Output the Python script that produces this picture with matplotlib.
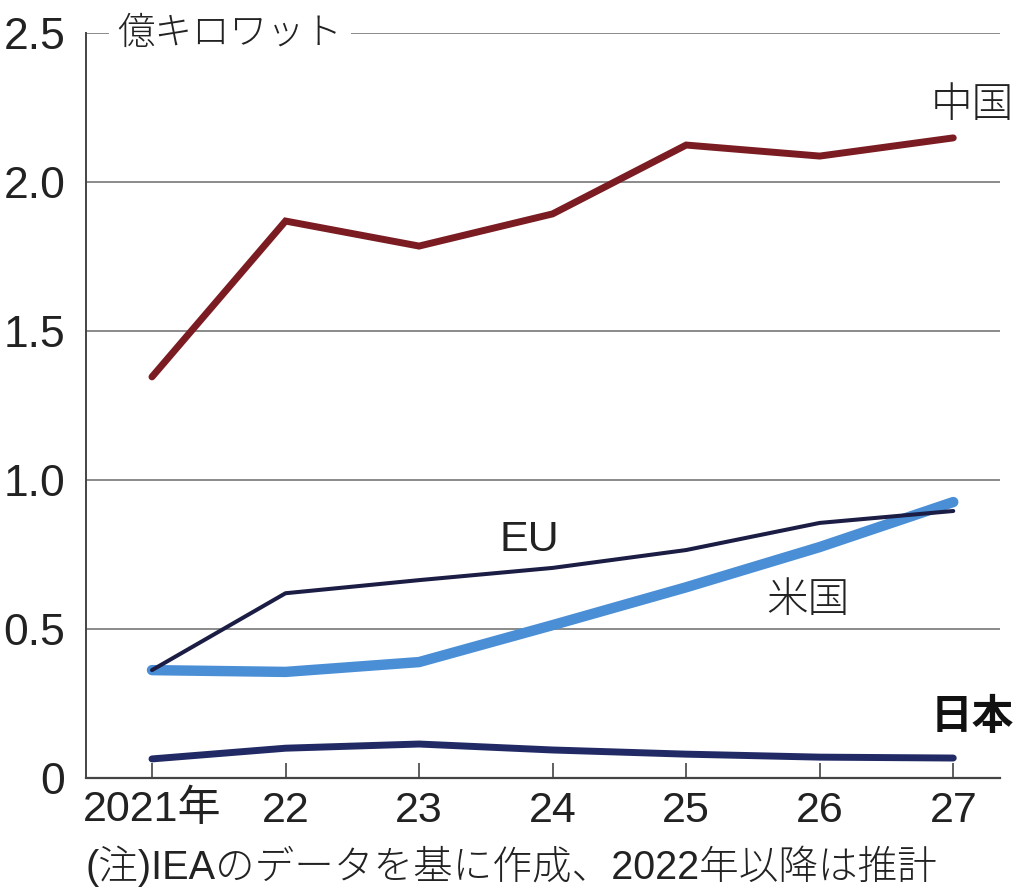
import matplotlib
matplotlib.use("Agg")
import matplotlib.pyplot as plt
from matplotlib import font_manager

names = {f.name for f in font_manager.fontManager.ttflist}
NUM = 'Liberation Sans Narrow' if 'Liberation Sans Narrow' in names else 'Liberation Sans'
JP = 'Noto Sans CJK JP'
FAM = [NUM, JP]

years = [2021, 2022, 2023, 2024, 2025, 2026, 2027]
xlabels = ['2021年', '22', '23', '24', '25', '26', '27']
china = [1.346, 1.869, 1.785, 1.893, 2.124, 2.087, 2.148]
eu = [0.362, 0.62, 0.664, 0.705, 0.765, 0.856, 0.896]
usa = [0.362, 0.356, 0.389, 0.513, 0.64, 0.775, 0.926]
japan = [0.064, 0.10, 0.114, 0.094, 0.08, 0.07, 0.067]
yticks = [0, 0.5, 1.0, 1.5, 2.0, 2.5]
ylabels = ['0', '0.5', '1.0', '1.5', '2.0', '2.5']

fig = plt.figure(figsize=(10.19, 8.93), dpi=100)
ax = fig.add_axes([86/1019, 1-778/893, (1000-86)/1019, (778-33)/893])
ax.set_xlim(2020.506, 2027.35)
ax.set_ylim(0, 2.5)

for v in yticks[1:]:
    ax.axhline(v, color='#8a8a8a', lw=1.4, zorder=1)

ax.plot(years, china, color='#7a1c22', lw=5, solid_capstyle='round', solid_joinstyle='miter', zorder=3)
ax.plot(years, usa, color='#4a8fd6', lw=7.5, solid_capstyle='round', zorder=3)
ax.plot(years, eu, color='#1b1d45', lw=2.9, solid_capstyle='round', zorder=4)
ax.plot(years, japan, color='#222a66', lw=5, solid_capstyle='round', zorder=3)

for s in ['top', 'right']:
    ax.spines[s].set_visible(False)
ax.spines['left'].set_color('#444444')
ax.spines['left'].set_linewidth(1.4)
ax.spines['bottom'].set_color('#444444')
ax.spines['bottom'].set_linewidth(1.6)

ax.set_yticks(yticks)
ax.set_yticklabels(ylabels, family=FAM, fontsize=32, color='#222222')
ax.tick_params(axis='y', length=0, pad=15)
ax.set_xticks(years)
ax.set_xticklabels(xlabels, family=FAM, fontsize=31, color='#222222')
ax.tick_params(axis='x', direction='in', length=11, width=1.2, color='#444444', pad=9)

ax.text(2020.74, 2.5, '億キロワット', family=JP, fontsize=27, fontweight='light', va='center', ha='left',
        color='#222222', bbox=dict(facecolor='white', edgecolor='none', pad=6), zorder=5)
ax.text(2026.83, 2.258, '中国', family=JP, fontsize=30, fontweight='light', va='center', ha='left', color='#222222')
ax.text(2023.6, 0.8, 'EU', family=FAM, fontsize=31, va='center', ha='left', color='#222222')
ax.text(2025.6, 0.595, '米国', family=JP, fontsize=30, fontweight='light', va='center', ha='left', color='#222222')
ax.text(2026.83, 0.205, '日本', family=JP, fontsize=30, fontweight='bold', va='center', ha='left', color='#111111')

fig.text(86/1019, 1-866/893, '(注)IEAのデータを基に作成、2022年以降は推計', family=FAM, fontsize=28.5,
         fontweight='light', va='center', ha='left', color='#222222')

fig.savefig('out.png', dpi=100, facecolor='white')
